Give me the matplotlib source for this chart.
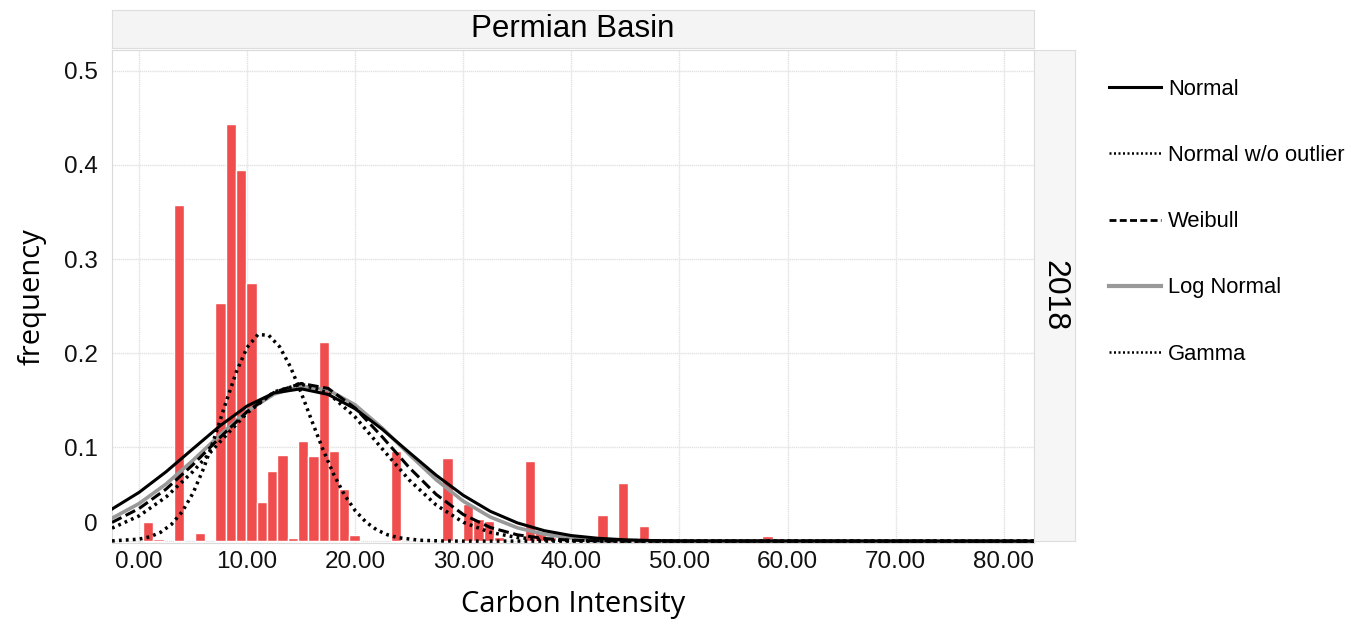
import matplotlib
matplotlib.use("Agg")
import matplotlib.pyplot as plt
from matplotlib.lines import Line2D
from matplotlib.transforms import ScaledTranslation

# histogram: bin index -> frequency (bins start at 0.37, width 0.955)
bin_start = 0.37
bin_width = 0.955
bin_index = [0, 1, 3, 5, 7, 8, 9, 10, 11, 12, 13, 14, 15, 16, 17, 18, 19, 20,
             24, 29, 31, 32, 33, 34, 37, 38, 39, 44, 46, 48, 49, 60]
freq = [0.0205, 0.002, 0.357, 0.009, 0.253, 0.444, 0.395, 0.275, 0.042, 0.0745,
        0.0915, 0.003, 0.107, 0.090, 0.212, 0.0957, 0.0557, 0.0064,
        0.096, 0.0886, 0.040, 0.024, 0.021, 0.004, 0.0855, 0.010, 0.004,
        0.0277, 0.0613, 0.016, 0.003, 0.0057]

# fitted curves
x_wide = [-2.5, 0, 2.5, 5, 7.5, 10, 12.5, 15, 17.5, 20, 22.5, 25, 27.5, 30,
          32.5, 35, 37.5, 40, 42.5, 45, 47.5, 50, 83]
normal = [0.0341, 0.0518, 0.0737, 0.0983, 0.1227, 0.1437, 0.1576, 0.1620,
          0.1560, 0.1407, 0.1190, 0.0943, 0.0700, 0.0487, 0.0317, 0.0194,
          0.0111, 0.0059, 0.0030, 0.0014, 0.0006, 0.0002, 0.0]
log_normal = [0.0243, 0.0399, 0.0607, 0.0860, 0.1130, 0.1380, 0.1564, 0.1647,
              0.1609, 0.1448, 0.1203, 0.0922, 0.0652, 0.0425, 0.0256, 0.0142,
              0.0073, 0.0034, 0.0015, 0.0006, 0.0002, 0.0001, 0.0]
weibull = [0.0199, 0.0346, 0.0553, 0.0814, 0.1103, 0.1377, 0.1583, 0.1677,
           0.1624, 0.1415, 0.1109, 0.0782, 0.0496, 0.0283, 0.0145, 0.0067,
           0.0028, 0.0010, 0.0003, 0.0, 0.0, 0.0, 0.0]
gamma = [0.0138, 0.0268, 0.0469, 0.0741, 0.1057, 0.1363, 0.1587, 0.1670,
         0.1575, 0.1319, 0.0982, 0.0650, 0.0383, 0.0200, 0.0093, 0.0038,
         0.0014, 0.0005, 0.0001, 0.0, 0.0, 0.0, 0.0]

x_narrow = [-2.5, 0, 1, 2, 3, 4, 5, 6, 7, 8, 9, 10, 11, 12, 13, 14, 15, 16,
            17, 18, 19, 20, 21, 22, 23, 24, 26, 28, 30, 83]
normal_wo = [0.0002, 0.0021, 0.0046, 0.0094, 0.0178, 0.0313, 0.0512, 0.0780,
             0.1107, 0.1462, 0.1799, 0.2060, 0.2197, 0.2189, 0.2068, 0.1855,
             0.1578, 0.1275, 0.0979, 0.0713, 0.0493, 0.0324, 0.0202, 0.0119,
             0.0067, 0.0036, 0.0009, 0.0002, 0.0, 0.0]

x_ticks = [0, 10, 20, 30, 40, 50, 60, 70, 80]
y_ticks = [0, 0.1, 0.2, 0.3, 0.4, 0.5]
y_ticklabels = ["0", "0.1", "0.2", "0.3", "0.4", "0.5"]

W, H = 1359, 619
fig = plt.figure(figsize=(W / 100, H / 100), dpi=100)
tick_font = "Liberation Sans"
label_font = "Open Sans"


def fax(x0, y0, x1, y1):
    # pixel box -> figure axes
    return fig.add_axes([x0 / W, 1 - y1 / H, (x1 - x0) / W, (y1 - y0) / H])


ax = fax(112, 50, 1034, 543)
ax.set_xlim(-2.5, 82.8)
ax.set_ylim(-0.002, 0.5223)

lefts = [bin_start + i * bin_width for i in bin_index]
ax.bar(lefts, freq, width=bin_width, align="edge", color="#F04E4E",
       edgecolor="white", linewidth=1.0, zorder=2)

ax.plot(x_wide, normal, color="black", lw=2.2, zorder=4)
ax.plot(x_wide, log_normal, color="#999999", lw=2.6, zorder=3)
ax.plot(x_wide, weibull, color="black", lw=2.2, ls=(0, (3.5, 1.5)), zorder=4)
ax.plot(x_wide, gamma, color="black", lw=2.5, ls=(0, (0.8, 1.2)), zorder=4)
ax.plot(x_narrow, normal_wo, color="black", lw=2.5, ls=(0, (0.8, 1.2)), zorder=4)

ax.set_xticks(x_ticks)
ax.set_xticklabels(["%.2f" % v for v in x_ticks], fontsize=17.5, family=tick_font)
ax.set_yticks(y_ticks)
ax.set_yticklabels(y_ticklabels, fontsize=17.5, family=tick_font)
ax.tick_params(length=0, colors="#111111")
ax.tick_params(axis="x", pad=6)
ax.tick_params(axis="y", pad=10)
zero_lab = ax.get_yticklabels()[0]
zero_lab.set_transform(zero_lab.get_transform() +
                       ScaledTranslation(0, 0.19, fig.dpi_scale_trans))
ax.grid(True, color="#E2E2E2", lw=1.0, ls=(0, (1, 0.5)), zorder=0)
ax.set_axisbelow(True)
for s in ax.spines.values():
    s.set_color("#DADADA")

ax.set_xlabel("Carbon Intensity", fontsize=21, family=label_font, labelpad=12)
ax.set_ylabel("frequency", fontsize=21, family=label_font, labelpad=13)

# facet strips
top = fax(112, 10, 1034, 48)
top.set_facecolor("#F4F4F4")
top.set_xticks([])
top.set_yticks([])
for s in top.spines.values():
    s.set_color("#DDDDDD")
top.text(0.5, 0.5, "Permian Basin", ha="center", va="center",
         fontsize=22.5, family=tick_font, transform=top.transAxes)

side = fax(1034, 50, 1075, 541)
side.set_facecolor("#F6F6F6")
side.set_xticks([])
side.set_yticks([])
for s in side.spines.values():
    s.set_color("#DDDDDD")
side.text(0.5, 0.5, "2018", ha="center", va="center", rotation=-90,
          fontsize=23, family=tick_font, transform=side.transAxes)

handles = [
    Line2D([], [], color="black", lw=2.2),
    Line2D([], [], color="black", lw=1.8, ls=(0, (0.8, 1.0))),
    Line2D([], [], color="black", lw=2.0, ls=(0, (2.5, 1.2))),
    Line2D([], [], color="#999999", lw=3.0),
    Line2D([], [], color="black", lw=1.8, ls=(0, (0.8, 1.0))),
]
labels = ["Normal", "Normal w/o outlier", "Weibull", "Log Normal", "Gamma"]
fig.legend(handles, labels, loc="upper left",
           bbox_to_anchor=(1100 / W, 1 - 70 / H), frameon=False,
           prop={"family": tick_font, "size": 15.8}, handlelength=2.4,
           handletextpad=0.3, labelspacing=2.06, borderaxespad=0)

fig.savefig("out.png", dpi=100)
